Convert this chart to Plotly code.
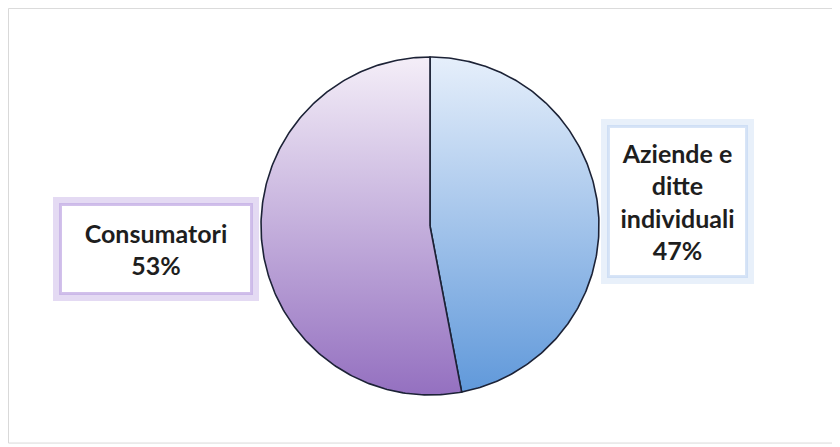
import numpy as np
import plotly.graph_objects as go

labels = ["Aziende e ditte individuali", "Consumatori"]
values = [47, 53]
label_text = ["Aziende e<br>ditte<br>individuali<br>47%", "Consumatori<br>53%"]
grad_top = ["#e6effb", "#f4eef8"]
grad_bottom = ["#5f98da", "#9470c0"]
glow_outer = ["rgba(190,212,242,0.35)", "rgba(195,172,228,0.45)"]
glow_inner = ["rgba(190,212,242,0.6)", "rgba(195,172,228,0.75)"]

W, H = 832, 439
label_center_px = [(669, 193), (148, 241)]
label_box_px = [(135, 147), (188, 86)]

fig = go.Figure()

total = sum(values)
start = 0.0
for i, v in enumerate(values):
    frac0 = start / total
    frac1 = (start + v) / total
    t = np.linspace(frac0, frac1, 240) * 2 * np.pi
    xs = np.concatenate([[0], np.sin(t), [0]])
    ys = np.concatenate([[0], np.cos(t), [0]])
    fig.add_trace(go.Scatter(
        x=xs, y=ys, mode="lines", fill="toself",
        line=dict(color="#1c2236", width=1.6),
        fillgradient=dict(type="vertical", start=-1, stop=1,
                          colorscale=[[0, grad_bottom[i]], [1, grad_top[i]]]),
        name=labels[i], hoverinfo="name", showlegend=False,
    ))
    start += v

for i in range(len(values)):
    px, py = label_center_px[i]
    bw, bh = label_box_px[i]
    common = dict(x=px / W, y=1 - py / H, xref="paper", yref="paper",
                  xanchor="center", yanchor="middle", showarrow=False,
                  width=bw, height=bh, borderpad=0)
    fig.add_annotation(text=" ", bgcolor="white", bordercolor=glow_outer[i],
                       borderwidth=9, **common)
    fig.add_annotation(
        text=label_text[i],
        font=dict(family="Lato", size=25, color="#1e1e1e", weight="bold"),
        bgcolor="white", bordercolor=glow_inner[i], borderwidth=3,
        align="center", valign="middle", **common,
    )

fig.add_shape(type="rect", xref="paper", yref="paper", x0=0.0006, y0=0.009, x1=0.9976, y1=0.999,
              line=dict(color="#d9d9d9", width=1))

R = 169.0
cx, cy = 422.0, 218.0
fig.update_layout(
    width=W, height=H,
    margin=dict(l=0, r=0, t=0, b=0),
    paper_bgcolor="white", plot_bgcolor="white",
    xaxis=dict(range=[-cx / R, (W - cx) / R], visible=False, fixedrange=True),
    yaxis=dict(range=[-(H - cy) / R, cy / R], visible=False, fixedrange=True),
)

fig.write_html("out.html")
